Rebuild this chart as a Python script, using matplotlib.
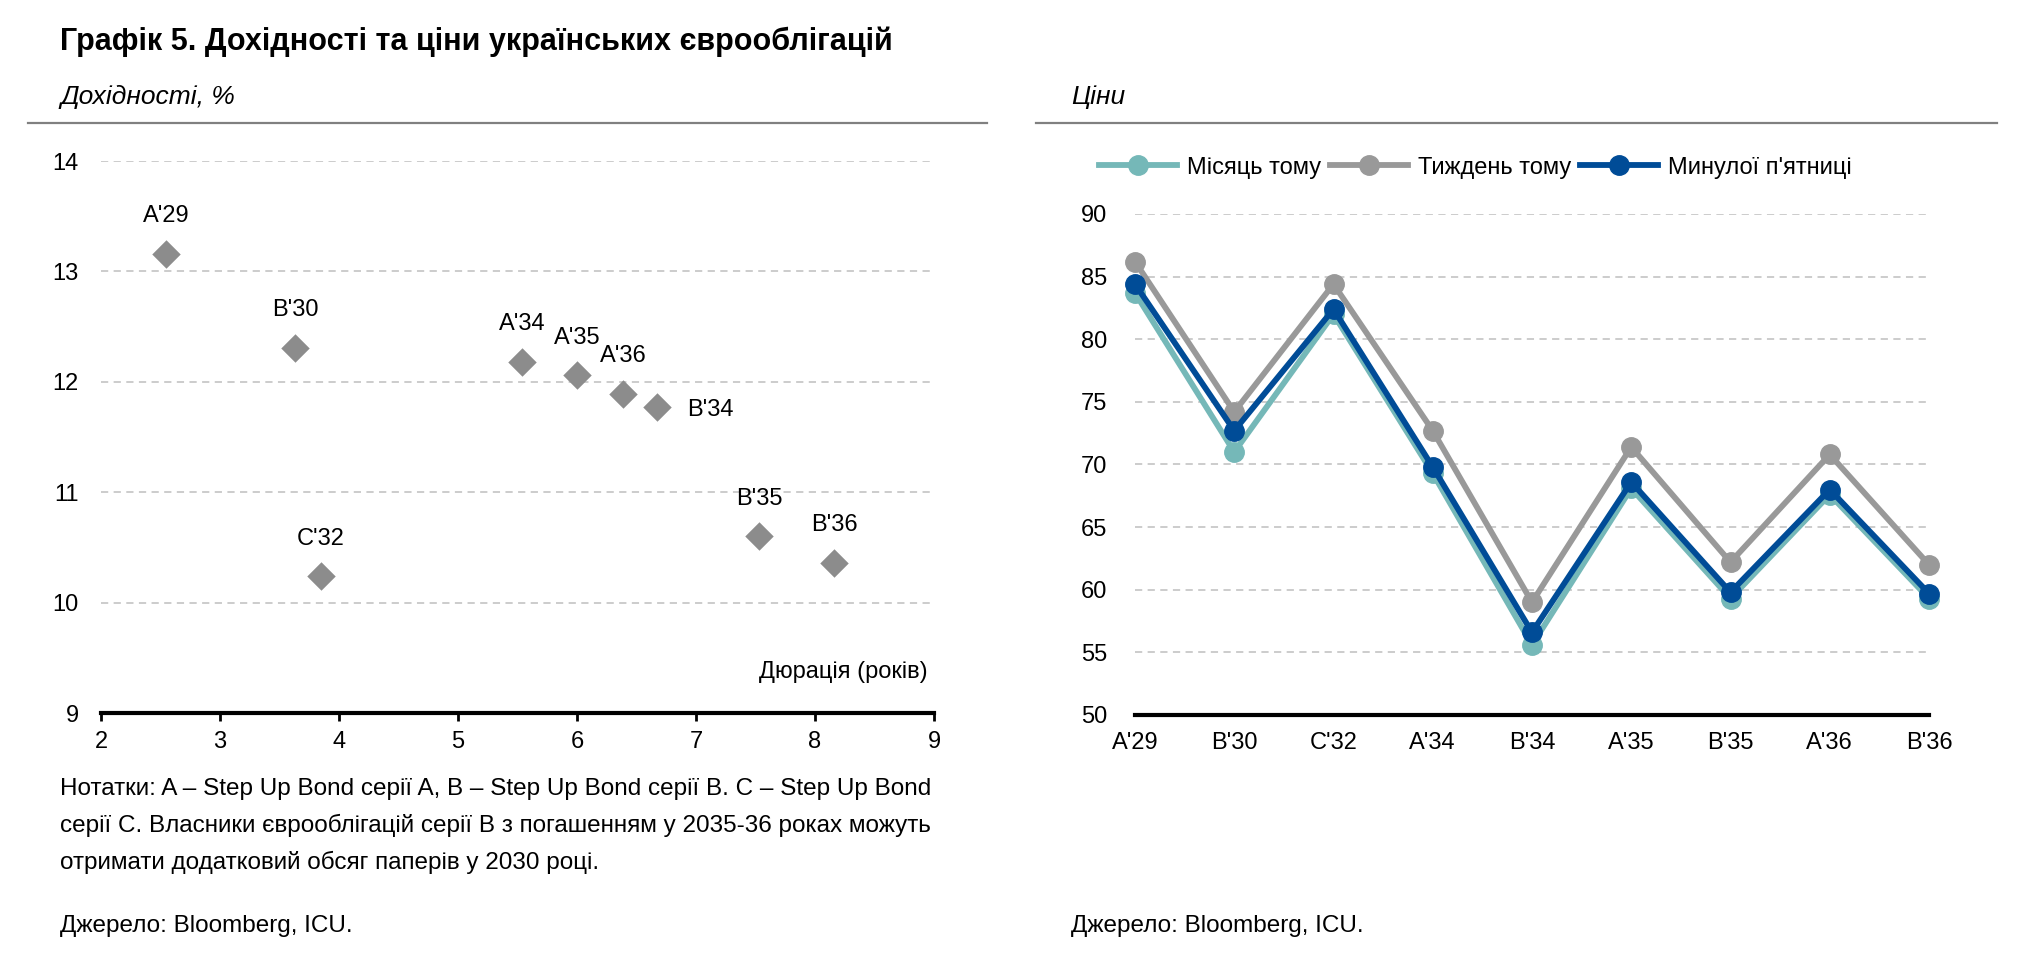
import matplotlib
matplotlib.use("Agg")
import matplotlib.pyplot as plt

plt.rcParams['font.family'] = ['Liberation Sans', 'DejaVu Sans']

# left chart: duration vs yield
bonds = ["A'29", "B'30", "C'32", "A'34", "A'35", "A'36", "B'34", "B'35", "B'36"]
duration = [2.55, 3.63, 3.85, 5.54, 6.00, 6.39, 6.67, 7.53, 8.16]
yields = [13.16, 12.31, 10.24, 12.18, 12.06, 11.89, 11.77, 10.60, 10.36]
label_right = ["B'34"]

# right chart: prices
categories = ["A'29", "B'30", "C'32", "A'34", "B'34", "A'35", "B'35", "A'36", "B'36"]
month_ago = [83.7, 71.0, 82.0, 69.3, 55.6, 68.1, 59.3, 67.6, 59.3]
week_ago = [86.2, 74.2, 84.4, 72.7, 59.0, 71.4, 62.2, 70.8, 62.0]
last_friday = [84.4, 72.7, 82.4, 69.8, 56.6, 68.6, 59.8, 68.0, 59.7]

W, H = 2023, 966
fig = plt.figure(figsize=(W / 100, H / 100), dpi=100)

grid_col = '#c8c8c8'

# titles and rules
fig.text(60 / W, 1 - 42 / H, "Графік 5. Дохідності та ціни українських єврооблігацій",
         fontsize=22, fontweight='bold', va='center', ha='left')
fig.text(60 / W, 1 - 97 / H, "Дохідності, %", fontsize=19, style='italic', va='center')
fig.text(1071 / W, 1 - 97 / H, "Ціни", fontsize=19, style='italic', va='center')
fig.add_artist(plt.Line2D([28 / W, 987 / W], [1 - 123 / H] * 2, color='#808080', lw=1.6))
fig.add_artist(plt.Line2D([1036 / W, 1997 / W], [1 - 123 / H] * 2, color='#808080', lw=1.6))

# ---- left scatter ----
ax1 = fig.add_axes([101 / W, 1 - 713 / H, (934 - 101) / W, (713 - 161) / H])
ax1.scatter(duration, yields, marker='D', s=210, color='#8c8c8c', zorder=3, linewidths=0)
for name, x, y in zip(bonds, duration, yields):
    if name in label_right:
        ax1.annotate(name, (x, y), xytext=(22, -2), textcoords='offset points',
                     ha='left', va='center', fontsize=17)
    else:
        ax1.annotate(name, (x, y), xytext=(0, 27), textcoords='offset points',
                     ha='center', va='center', fontsize=17)
ax1.set_xlim(2, 9)
ax1.set_ylim(9, 14)
ax1.set_xticks(range(2, 10))
ax1.set_yticks(range(9, 15))
ax1.grid(axis='y', color=grid_col, linestyle=(0, (4, 3)), lw=1.3)
ax1.set_axisbelow(True)
for s in ['top', 'right', 'left']:
    ax1.spines[s].set_visible(False)
ax1.spines['bottom'].set_linewidth(3)
ax1.tick_params(axis='y', length=0, labelsize=17, pad=16)
ax1.tick_params(axis='x', length=6, width=2, labelsize=17, pad=7)
ax1.text(8.95, 9.27, "Дюрація (років)", ha='right', va='bottom', fontsize=17)

# ---- right lines ----
ax2 = fig.add_axes([1135 / W, 1 - 715 / H, (1929 - 1135) / W, (715 - 214) / H])
xs = range(len(categories))
ax2.plot(xs, month_ago, color='#75b8b8', lw=4.2, marker='o', ms=14, label='Місяць тому', zorder=3)
ax2.plot(xs, week_ago, color='#999999', lw=4.2, marker='o', ms=14, label='Тиждень тому', zorder=3)
ax2.plot(xs, last_friday, color='#004c97', lw=4.2, marker='o', ms=14, label="Минулої п'ятниці", zorder=4)
ax2.set_xlim(0, len(categories) - 1)
ax2.set_ylim(50, 90)
ax2.set_yticks(range(50, 91, 5))
ax2.set_xticks(list(xs))
ax2.set_xticklabels(categories)
ax2.grid(axis='y', color=grid_col, linestyle=(0, (4, 3)), lw=1.3)
ax2.set_axisbelow(True)
for s in ['top', 'right', 'left']:
    ax2.spines[s].set_visible(False)
ax2.spines['bottom'].set_linewidth(3)
ax2.tick_params(axis='y', length=0, labelsize=17, pad=20)
ax2.tick_params(axis='x', length=0, labelsize=17, pad=12)
for ln in ax2.lines:
    ln.set_clip_on(False)
ax2.legend(loc='lower left', bbox_to_anchor=(1090 / W, 1 - 188 / H), bbox_transform=fig.transFigure,
           ncol=3, frameon=False, fontsize=17, handlelength=3.3, handletextpad=0.4,
           columnspacing=0.4, borderaxespad=0)

# notes and sources
notes = ("Нотатки: A – Step Up Bond серії A, B – Step Up Bond серії B. C – Step Up Bond\n"
         "серії C. Власники єврооблігацій серії B з погашенням у 2035-36 роках можуть\n"
         "отримати додатковий обсяг паперів у 2030 році.")
fig.text(60 / W, 1 - 778 / H, notes, fontsize=17.5, va='top', ha='left', linespacing=1.75)
fig.text(60 / W, 1 - 926 / H, "Джерело: Bloomberg, ICU.", fontsize=17.5, va='center')
fig.text(1071 / W, 1 - 926 / H, "Джерело: Bloomberg, ICU.", fontsize=17.5, va='center')

fig.savefig('out.png', dpi=100)
